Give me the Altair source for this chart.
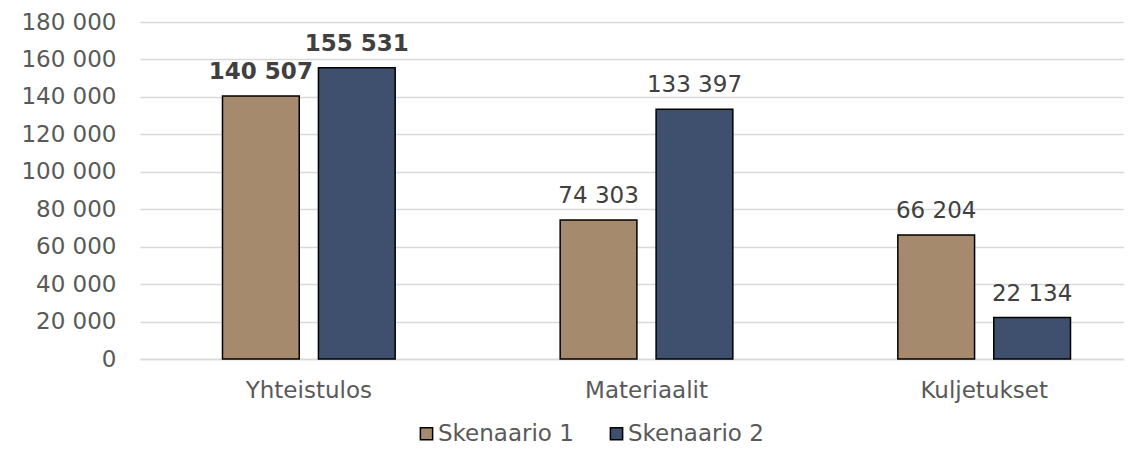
import altair as alt
import pandas as pd

categories = ["Yhteistulos", "Materiaalit", "Kuljetukset"]
series = ["Skenaario 1", "Skenaario 2"]
skenaario1 = [140507, 74303, 66204]
skenaario2 = [155531, 133397, 22134]
colors = ["#A68A6D", "#3F4F6E"]

rows = []
for i, c in enumerate(categories):
    for s, vals in zip(series, [skenaario1, skenaario2]):
        v = vals[i]
        rows.append({"cat": c, "series": s, "value": v,
                     "label": f"{v:,}".replace(",", " "),
                     "bold": c == "Yhteistulos"})
df = pd.DataFrame(rows)

FONT = "DejaVu Sans"
FS = 23
W, H = 984, 337

x = alt.X("cat:N", sort=categories, title=None,
          scale=alt.Scale(paddingInner=0, paddingOuter=0, range=[0, 1013]),
          axis=alt.Axis(labelAngle=0, labelFontSize=FS, labelColor="#595959", labelFont=FONT,
                        labelPadding=20, ticks=False, domainColor="#D9D9D9", domainWidth=1.5))
xo = alt.XOffset("series:N", sort=series,
                 scale=alt.Scale(paddingInner=0.2, paddingOuter=0.86))
y = alt.Y("value:Q", title=None,
          scale=alt.Scale(domain=[0, 180000], nice=False),
          axis=alt.Axis(values=list(range(0, 180001, 20000)), labelFontSize=FS,
                        labelColor="#595959", labelFont=FONT, labelPadding=24,
                        ticks=False, domain=False, gridColor="#D9D9D9", gridWidth=1.5,
                        labelExpr="replace(format(datum.value, ','), /,/g, ' ')"))

bars = alt.Chart(df).mark_bar(stroke="black", strokeWidth=1.5).encode(
    x=x, xOffset=xo, y=y,
    color=alt.Color("series:N", sort=series,
                    scale=alt.Scale(domain=series, range=colors),
                    legend=alt.Legend(title=None, orient="none", direction="horizontal",
                                      legendX=275, legendY=400, labelFontSize=FS,
                                      labelColor="#595959", labelFont=FONT,
                                      symbolType="square", symbolSize=150,
                                      symbolStrokeColor="black", symbolStrokeWidth=1.5,
                                      columnPadding=31, labelOffset=0)),
)

text_normal = alt.Chart(df[~df["bold"]]).mark_text(
    dy=-17, baseline="alphabetic", fontSize=FS, font=FONT, color="#404040"
).encode(x=x, xOffset=xo, y=y, text="label:N")

text_bold = alt.Chart(df[df["bold"]]).mark_text(
    dy=-17, baseline="alphabetic", fontSize=FS, font=FONT, color="#404040", fontWeight="bold"
).encode(x=x, xOffset=xo, y=y, text="label:N")

chart = alt.layer(bars, text_normal, text_bold).properties(
    width=W, height=H,
    autosize=alt.AutoSizeParams(type="none"),
    padding={"left": 132, "top": 14, "right": 0, "bottom": 87},
).configure_view(stroke=None)

chart.save("out.html", embed_options={"renderer": "svg", "actions": False})
